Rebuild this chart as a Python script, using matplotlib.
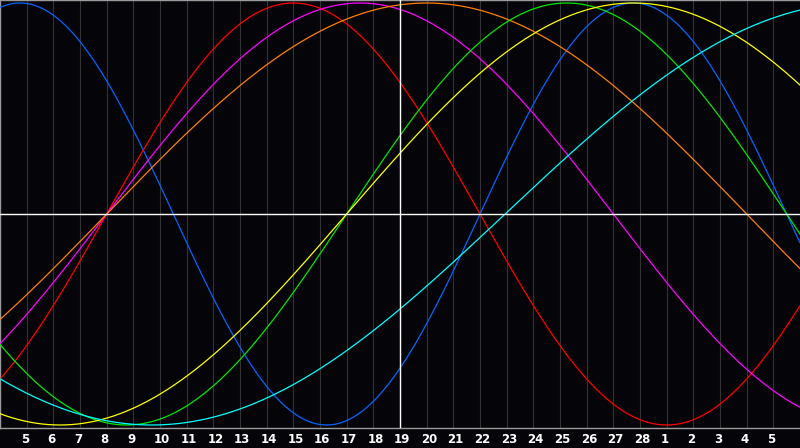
import numpy as np
import matplotlib.pyplot as plt
from matplotlib.transforms import blended_transform_factory

# day labels along the bottom (grid line k -> label k)
day_labels = [5, 6, 7, 8, 9, 10, 11, 12, 13, 14, 15, 16, 17, 18, 19, 20,
              21, 22, 23, 24, 25, 26, 27, 28, 1, 2, 3, 4, 5]
today_index = 15          # the "19" line
n_days = 30               # width of the chart in days

# cycles: period (days) and where each one crosses zero going up (chart days)
cycle_names = ["physical", "emotional", "intuitive", "awareness",
               "intellectual", "aesthetic", "spiritual"]
cycle_periods = [23, 28, 38, 48, 33, 43, 53]
cycle_zero_up = [18.0, 4.0, 4.0, 4.0, 13.0, 13.0, 18.94]
cycle_colors = ["#0066ff", "#ff0000", "#ff00ff", "#ff8000",
                "#00e600", "#ffff00", "#00ffff"]

bg = "#050408"
fig = plt.figure(figsize=(8, 4.48), dpi=100, facecolor=bg)
ax = fig.add_axes([0, 20 / 448, 1, 428 / 448], facecolor=bg)

t = np.linspace(0, n_days, 1200)

# grid
for k in range(1, len(day_labels) + 1):
    ax.axvline(k, color="#333333", lw=0.8, zorder=1)

for name, period, z, col in zip(cycle_names, cycle_periods, cycle_zero_up, cycle_colors):
    ax.plot(t, np.sin(2 * np.pi * (t - z) / period), color=col, lw=0.9,
            zorder=3, label=name)

ax.axhline(0, color="white", lw=1.0, zorder=4)
ax.axvline(today_index, color="white", lw=1.0, zorder=4)

ax.set_xlim(0, n_days)
ax.set_ylim(-214 / 211, 214 / 211)
ax.set_xticks([])
ax.set_yticks([])
for side in ["left", "top", "bottom"]:
    ax.spines[side].set_color("#9a9a9a")
    ax.spines[side].set_linewidth(1.0)
ax.spines["right"].set_visible(False)

trans = blended_transform_factory(ax.transData, ax.transAxes)
for k, lab in enumerate(day_labels, start=1):
    ax.text(k - 0.225, -11 / 428, str(lab), transform=trans, ha="left",
            va="center", color="white", fontsize=8.5, fontweight="bold",
            clip_on=False)

fig.savefig("out.png", dpi=100, facecolor=bg)
